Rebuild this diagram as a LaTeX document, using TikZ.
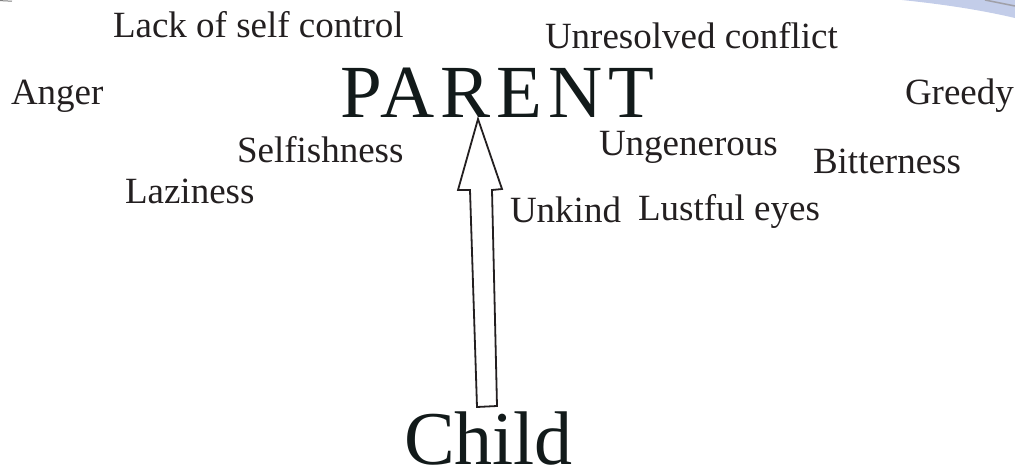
\documentclass[tikz,border=0pt]{standalone}
\usepackage{fontspec}
\setmainfont{Liberation Serif}
\definecolor{txt}{HTML}{231F20}
\definecolor{bigtxt}{HTML}{121A1A}
\definecolor{cornerblue}{HTML}{C3CDE9}
\definecolor{cornergrey}{HTML}{A0A0A8}
\begin{document}
\begin{tikzpicture}[x=1pt,y=-1pt,
  word/.style={anchor=base west, inner sep=0pt, outer sep=0pt, text=txt,
    font=\fontsize{37}{40}\selectfont},
  bigword/.style={anchor=base west, inner sep=0pt, outer sep=0pt, text=bigtxt},
  blockarrow/.style={draw=txt, line width=1.8pt, fill=white, line join=miter}]
\useasboundingbox (0,0) rectangle (1015,472);
% corner decoration
\fill[cornerblue] (902,0) .. controls (950,5) and (985,11) .. (1015,18) -- (1015,0) -- cycle;
\draw[cornergrey, line width=1.5pt] (985,0) -- (1015,6);
\draw[gray, line width=1pt] (0,0.6) -- (12,1.2);
% words
\node[word] (lack) at (113,37) {Lack of self control};
\node[word] (unres) at (545,48) {Unresolved conflict};
\node[word] (anger) at (11,104) {Anger};
\node[word] (greedy) at (905,104) {Greedy};
\node[word] (selfish) at (237,162) {Selfishness};
\node[word] (lazy) at (125,203) {Laziness};
\node[word] (ungen) at (599,155) {Ungenerous};
\node[word] (bitter) at (813,173) {Bitterness};
\node[word] (unkind) at (510,222) {Unkind};
\node[word] (lustful) at (638,220) {Lustful eyes};
\node[bigword, font=\fontsize{75}{80}\selectfont\addfontfeature{LetterSpace=8}] (parent) at (340,117) {PARENT};
\node[bigword, font=\fontsize{76}{80}\selectfont] (child) at (404,464) {Child};
% block arrow from child to parent
\coordinate (tip) at (478,119);
\coordinate (hr) at (502,189);
\coordinate (sr) at (492,190);
\coordinate (br) at (497,406);
\coordinate (bl) at (477,407);
\coordinate (sl) at (470,190);
\coordinate (hl) at (458,190);
\draw[blockarrow] (tip) -- (hr) -- (sr) -- (br) -- (bl) -- (sl) -- (hl) -- cycle;
\end{tikzpicture}
\end{document}
